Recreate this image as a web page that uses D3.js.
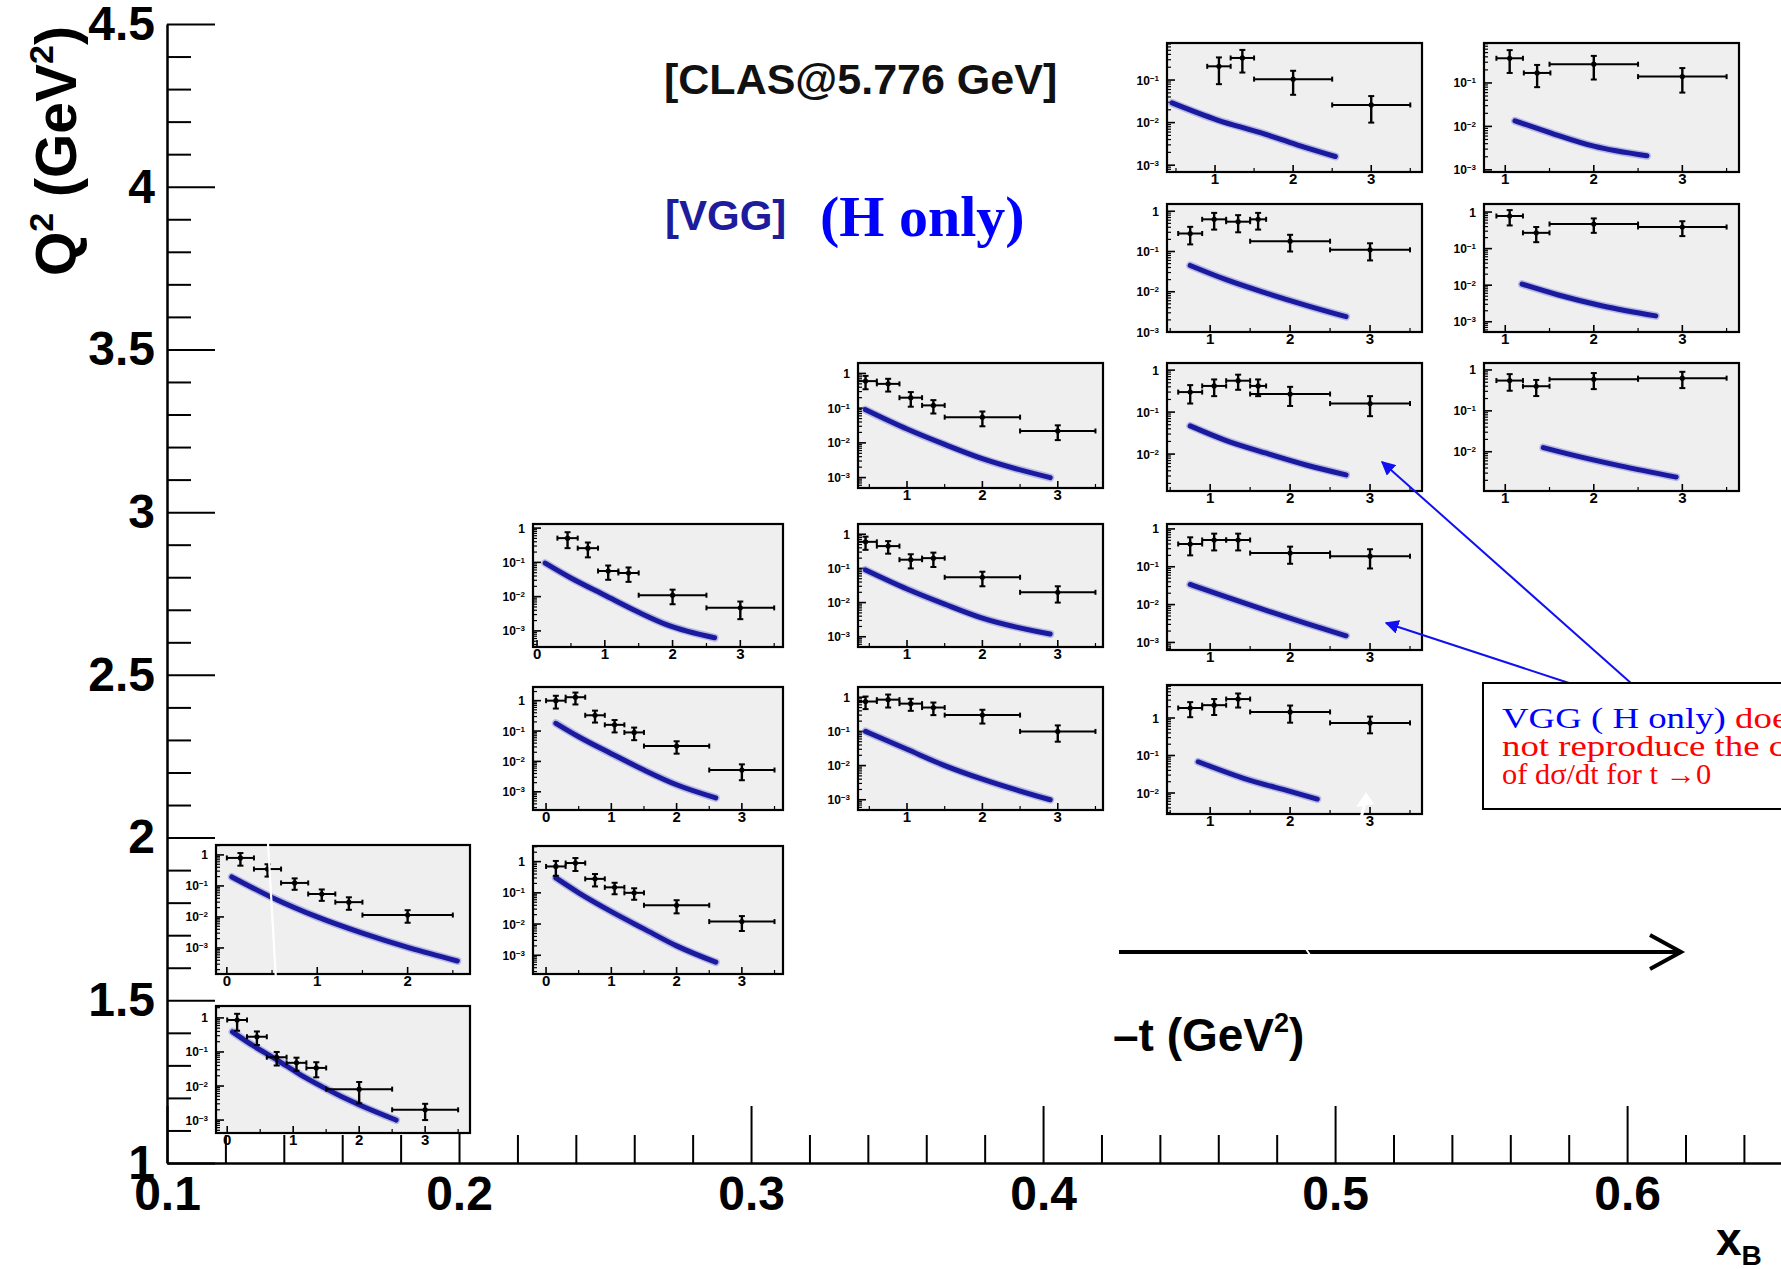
<!DOCTYPE html>
<html>
<head>
<meta charset="utf-8">
<script src="https://cdn.jsdelivr.net/npm/d3@7"></script>
<style>
  body { margin: 0; background: #fff; }
  svg { display: block; }
</style>
</head>
<body>
<svg id="chart" width="1781" height="1269"></svg>
<script>
// ---- main (xB, Q2) grid ----
const xbTicks = [0.1, 0.2, 0.3, 0.4, 0.5, 0.6];
const q2Ticks = [1, 1.5, 2, 2.5, 3, 3.5, 4, 4.5];

// ---- dsigma/dt vs -t for each (xB, Q2) bin ----
// t: bin centre, dt: half width, v: cross section, e: error,
// ct/cv: VGG (H only) model curve
// xB ~ 0.13, Q2 ~ 1.2
const p1_t  = [0.15, 0.45, 0.75, 1.05, 1.35, 2.0, 3.0];
const p1_dt = [0.15, 0.15, 0.15, 0.15, 0.15, 0.5, 0.5];
const p1_v  = [0.87, 0.28, 0.07, 0.048, 0.034, 0.0081, 0.002];
const p1_e  = [0.45, 0.12, 0.03, 0.02, 0.016, 0.005, 0.001];
const p1_ct = [0.08, 0.4, 0.76, 1.1, 1.45, 2.0, 2.56];
const p1_cv = [0.39, 0.15, 0.058, 0.022, 0.0093, 0.0028, 0.001];
// xB ~ 0.13, Q2 ~ 1.8
const p2_t  = [0.15, 0.45, 0.75, 1.05, 1.35, 2.0];
const p2_dt = [0.15, 0.15, 0.15, 0.15, 0.15, 0.5];
const p2_v  = [0.8, 0.35, 0.125, 0.055, 0.03, 0.0115];
const p2_e  = [0.35, 0.15, 0.05, 0.022, 0.013, 0.005];
const p2_ct = [0.055, 0.51, 1.0, 1.5, 2.02, 2.55];
const p2_cv = [0.195, 0.041, 0.01, 0.003, 0.001, 0.00038];
// xB ~ 0.23, Q2 ~ 1.8
const p3_t  = [0.15, 0.45, 0.75, 1.05, 1.35, 2.0, 3.0];
const p3_dt = [0.15, 0.15, 0.15, 0.15, 0.15, 0.5, 0.5];
const p3_v  = [0.7, 0.9, 0.28, 0.15, 0.1, 0.04, 0.012];
const p3_e  = [0.35, 0.4, 0.12, 0.06, 0.04, 0.018, 0.006];
const p3_ct = [0.15, 0.5, 1.0, 1.5, 2.0, 2.6];
const p3_cv = [0.3, 0.1, 0.025, 0.007, 0.002, 0.0006];
// xB ~ 0.23, Q2 ~ 2.3
const p4_t  = [0.15, 0.45, 0.75, 1.05, 1.35, 2.0, 3.0];
const p4_dt = [0.15, 0.15, 0.15, 0.15, 0.15, 0.5, 0.5];
const p4_v  = [1.0, 1.3, 0.33, 0.16, 0.09, 0.032, 0.0052];
const p4_e  = [0.45, 0.55, 0.14, 0.07, 0.04, 0.014, 0.0028];
const p4_ct = [0.15, 0.5, 1.0, 1.5, 2.0, 2.6];
const p4_cv = [0.18, 0.065, 0.018, 0.0052, 0.0017, 0.00063];
// xB ~ 0.23, Q2 ~ 2.8
const p5_t  = [0.45, 0.75, 1.05, 1.35, 2.0, 3.0];
const p5_dt = [0.15, 0.15, 0.15, 0.15, 0.5, 0.5];
const p5_v  = [0.51, 0.26, 0.056, 0.049, 0.011, 0.0047];
const p5_e  = [0.25, 0.12, 0.025, 0.022, 0.005, 0.0025];
const p5_ct = [0.12, 0.5, 1.0, 1.5, 1.92, 2.62];
const p5_cv = [0.095, 0.035, 0.011, 0.0035, 0.0015, 0.00063];
// xB ~ 0.34, Q2 ~ 2.3
const p6_t  = [0.45, 0.75, 1.05, 1.35, 2.0, 3.0];
const p6_dt = [0.15, 0.15, 0.15, 0.15, 0.5, 0.5];
const p6_v  = [0.75, 0.85, 0.65, 0.5, 0.3, 0.1];
const p6_e  = [0.3, 0.35, 0.25, 0.2, 0.13, 0.05];
const p6_ct = [0.45, 1.0, 1.5, 2.0, 2.9];
const p6_cv = [0.1, 0.03, 0.01, 0.004, 0.001];
// xB ~ 0.34, Q2 ~ 2.8
const p7_t  = [0.45, 0.75, 1.05, 1.35, 2.0, 3.0];
const p7_dt = [0.15, 0.15, 0.15, 0.15, 0.5, 0.5];
const p7_v  = [0.6, 0.45, 0.18, 0.2, 0.055, 0.02];
const p7_e  = [0.25, 0.18, 0.08, 0.09, 0.025, 0.01];
const p7_ct = [0.45, 1.0, 1.5, 2.0, 2.9];
const p7_cv = [0.09, 0.025, 0.009, 0.0035, 0.0012];
// xB ~ 0.34, Q2 ~ 3.3
const p8_t  = [0.45, 0.75, 1.05, 1.35, 2.0, 3.0];
const p8_dt = [0.15, 0.15, 0.15, 0.15, 0.5, 0.5];
const p8_v  = [0.6, 0.5, 0.2, 0.12, 0.055, 0.022];
const p8_e  = [0.25, 0.2, 0.09, 0.05, 0.025, 0.01];
const p8_ct = [0.45, 1.0, 1.5, 2.0, 2.9];
const p8_cv = [0.09, 0.025, 0.009, 0.0035, 0.001];
// xB ~ 0.45, Q2 ~ 2.3
const p9_t  = [0.75, 1.05, 1.35, 2.0, 3.0];
const p9_dt = [0.15, 0.15, 0.15, 0.5, 0.5];
const p9_v  = [1.85, 2.2, 3.2, 1.45, 0.74];
const p9_e  = [0.8, 1.0, 1.3, 0.7, 0.35];
const p9_ct = [0.85, 1.41, 2.0, 2.34];
const p9_cv = [0.068, 0.025, 0.011, 0.0069];
// xB ~ 0.45, Q2 ~ 2.8
const p10_t  = [0.75, 1.05, 1.35, 2.0, 3.0];
const p10_dt = [0.15, 0.15, 0.15, 0.5, 0.5];
const p10_v  = [0.4, 0.51, 0.51, 0.23, 0.19];
const p10_e  = [0.2, 0.24, 0.24, 0.11, 0.1];
const p10_ct = [0.75, 1.2, 1.7, 2.2, 2.7];
const p10_cv = [0.034, 0.016, 0.007, 0.0032, 0.0015];
// xB ~ 0.45, Q2 ~ 3.3
const p11_t  = [0.75, 1.05, 1.35, 1.6, 2.0, 3.0];
const p11_dt = [0.15, 0.15, 0.15, 0.1, 0.5, 0.5];
const p11_v  = [0.3, 0.42, 0.56, 0.42, 0.27, 0.16];
const p11_e  = [0.14, 0.18, 0.22, 0.18, 0.13, 0.08];
const p11_ct = [0.75, 1.2, 1.7, 2.2, 2.7];
const p11_cv = [0.047, 0.021, 0.0105, 0.0055, 0.0032];
// xB ~ 0.45, Q2 ~ 3.8
const p12_t  = [0.75, 1.05, 1.35, 1.6, 2.0, 3.0];
const p12_dt = [0.15, 0.15, 0.15, 0.1, 0.5, 0.5];
const p12_v  = [0.28, 0.63, 0.55, 0.63, 0.18, 0.11];
const p12_e  = [0.13, 0.28, 0.25, 0.28, 0.08, 0.05];
const p12_ct = [0.75, 1.2, 1.7, 2.2, 2.7];
const p12_cv = [0.045, 0.02, 0.0093, 0.0046, 0.0024];
// xB ~ 0.45, Q2 ~ 4.3
const p13_t  = [1.05, 1.35, 2.0, 3.0];
const p13_dt = [0.15, 0.15, 0.5, 0.5];
const p13_v  = [0.21, 0.33, 0.105, 0.026];
const p13_e  = [0.13, 0.18, 0.06, 0.016];
const p13_ct = [0.45, 1.03, 1.58, 2.05, 2.54];
const p13_cv = [0.029, 0.0115, 0.0058, 0.003, 0.0016];
// xB ~ 0.55, Q2 ~ 3.3
const p14_t  = [1.05, 1.35, 2.0, 3.0];
const p14_dt = [0.15, 0.15, 0.5, 0.5];
const p14_v  = [0.55, 0.4, 0.59, 0.63];
const p14_e  = [0.24, 0.17, 0.25, 0.27];
const p14_ct = [1.43, 1.8, 2.3, 2.93];
const p14_cv = [0.0126, 0.0079, 0.0045, 0.0024];
// xB ~ 0.55, Q2 ~ 3.8
const p15_t  = [1.05, 1.35, 2.0, 3.0];
const p15_dt = [0.15, 0.15, 0.5, 0.5];
const p15_v  = [0.78, 0.27, 0.47, 0.39];
const p15_e  = [0.35, 0.12, 0.2, 0.17];
const p15_ct = [1.19, 1.6, 2.1, 2.7];
const p15_cv = [0.0107, 0.0054, 0.0027, 0.00145];
// xB ~ 0.55, Q2 ~ 4.3
const p16_t  = [1.05, 1.36, 2.0, 3.0];
const p16_dt = [0.15, 0.15, 0.5, 0.5];
const p16_v  = [0.37, 0.17, 0.27, 0.14];
const p16_e  = [0.2, 0.09, 0.15, 0.08];
const p16_ct = [1.11, 1.51, 2.0, 2.6];
const p16_cv = [0.0134, 0.0071, 0.0035, 0.0021];

// ---- inset frames: [left, top, width, height] and axis ranges [tMin, tMax, log10 min, log10 max] ----
const frames = [
  [216, 1006, 254, 127], [216, 845, 254, 129],
  [533, 846, 250, 128], [533, 687, 250, 123], [533, 524, 250, 123],
  [858, 687, 245, 123], [858, 524, 245, 123], [858, 363, 245, 125],
  [1167, 685, 255, 129], [1167, 524, 255, 126], [1167, 363, 255, 128], [1167, 204, 255, 128], [1167, 43, 255, 129],
  [1484, 363, 255, 128], [1484, 204, 255, 128], [1484, 43, 255, 129]
];
const ranges = [
  [-0.17, 3.68, -3.38, 0.35], [-0.12, 2.69, -3.84, 0.32],
  [-0.2, 3.63, -3.6, 0.5], [-0.2, 3.63, -3.6, 0.45], [-0.06, 3.63, -3.47, 0.12],
  [0.35, 3.6, -3.3, 0.3], [0.35, 3.6, -3.3, 0.3], [0.35, 3.6, -3.3, 0.3],
  [0.46, 3.65, -2.56, 0.88], [0.46, 3.65, -3.2, 0.13], [0.46, 3.65, -2.88, 0.17], [0.46, 3.65, -3.0, 0.18], [0.385, 3.65, -3.16, -0.13],
  [0.76, 3.64, -2.96, 0.17], [0.76, 3.64, -3.28, 0.22], [0.76, 3.64, -3.05, -0.08]
];
const bins = [
  [p1_t, p1_dt, p1_v, p1_e, p1_ct, p1_cv], [p2_t, p2_dt, p2_v, p2_e, p2_ct, p2_cv],
  [p3_t, p3_dt, p3_v, p3_e, p3_ct, p3_cv], [p4_t, p4_dt, p4_v, p4_e, p4_ct, p4_cv],
  [p5_t, p5_dt, p5_v, p5_e, p5_ct, p5_cv], [p6_t, p6_dt, p6_v, p6_e, p6_ct, p6_cv],
  [p7_t, p7_dt, p7_v, p7_e, p7_ct, p7_cv], [p8_t, p8_dt, p8_v, p8_e, p8_ct, p8_cv],
  [p9_t, p9_dt, p9_v, p9_e, p9_ct, p9_cv], [p10_t, p10_dt, p10_v, p10_e, p10_ct, p10_cv],
  [p11_t, p11_dt, p11_v, p11_e, p11_ct, p11_cv], [p12_t, p12_dt, p12_v, p12_e, p12_ct, p12_cv],
  [p13_t, p13_dt, p13_v, p13_e, p13_ct, p13_cv], [p14_t, p14_dt, p14_v, p14_e, p14_ct, p14_cv],
  [p15_t, p15_dt, p15_v, p15_e, p15_ct, p15_cv], [p16_t, p16_dt, p16_v, p16_e, p16_ct, p16_cv]
];

const svg = d3.select('#chart');
const SANS = '"Liberation Sans", Arial, Helvetica, sans-serif';
const SERIF = '"Liberation Serif", "Times New Roman", serif';

// ---- main axes ----
const x = d3.scaleLinear().domain([0.1, 0.6527]).range([167, 1781]);
const y = d3.scaleLinear().domain([1, 4.5]).range([1163, 24]);

const xMinor = d3.range(0.12, 0.651, 0.02).filter(v => Math.abs(v * 10 - Math.round(v * 10)) > 1e-6);
const yMinor = d3.range(1.1, 4.5, 0.1).filter(v => Math.abs(v * 2 - Math.round(v * 2)) > 1e-6);

const gMain = svg.append('g');
const gx = gMain.append('g').attr('transform', 'translate(0,1163)');
gx.call(d3.axisBottom(x).tickValues(xbTicks).tickSizeInner(-57).tickSizeOuter(0).tickPadding(13)
  .tickFormat(d3.format('.1f')));
gx.append('g').call(d3.axisBottom(x).tickValues(xMinor).tickSizeInner(-28).tickSizeOuter(0).tickFormat(''))
  .select('.domain').remove();
const gy = gMain.append('g').attr('transform', 'translate(167,0)');
gy.call(d3.axisLeft(y).tickValues(q2Ticks).tickSizeInner(-48).tickSizeOuter(0).tickPadding(12)
  .tickFormat(d => String(d)));
gy.append('g').call(d3.axisLeft(y).tickValues(yMinor).tickSizeInner(-24).tickSizeOuter(0).tickFormat(''))
  .select('.domain').remove();
gMain.selectAll('.domain').attr('stroke', '#000').attr('stroke-width', 2.5);
gMain.selectAll('.tick line').attr('stroke', '#000').attr('stroke-width', 2);
gMain.selectAll('.tick text').attr('fill', '#000').attr('font-family', SANS)
  .attr('font-weight', 'bold').attr('font-size', 48);

// axis titles
const q2Title = svg.append('text').attr('transform', 'translate(76,26) rotate(-90)')
  .attr('text-anchor', 'end').attr('font-family', SANS).attr('font-weight', 'bold')
  .attr('font-size', 57).attr('fill', '#000');
q2Title.append('tspan').text('Q');
q2Title.append('tspan').attr('dy', -23).attr('font-size', 34).text('2');
q2Title.append('tspan').attr('dy', 23).text(' (GeV');
q2Title.append('tspan').attr('dy', -23).attr('font-size', 34).text('2');
q2Title.append('tspan').attr('dy', 23).text(')');

const xbTitle = svg.append('text').attr('x', 1716).attr('y', 1255).attr('font-family', SANS)
  .attr('font-weight', 'bold').attr('font-size', 46).attr('fill', '#000');
xbTitle.append('tspan').text('x');
xbTitle.append('tspan').attr('dy', 10).attr('font-size', 28).text('B');

// ---- insets ----
const fmtPow = (g, d) => {
  if (d === 0) { g.text('1'); return; }
  g.append('tspan').text('10');
  g.append('tspan').attr('dy', -4).attr('font-size', 8).text('\u2212' + (-d));
};

const curveLine = d3.line().curve(d3.curveMonotoneX);

frames.forEach((f, i) => {
  const [L, T, Wd, Ht] = f;
  const [t0, t1, l0, l1] = ranges[i];
  const [pt, pdt, pv, pe, ct, cv] = bins[i];
  const sx = d3.scaleLinear().domain([t0, t1]).range([L, L + Wd]);
  const sy = d3.scaleLog().domain([Math.pow(10, l0), Math.pow(10, l1)]).range([T + Ht, T]);
  const g = svg.append('g');

  g.append('rect').attr('x', L).attr('y', T).attr('width', Wd).attr('height', Ht).attr('fill', '#efefef');

  const clipId = 'clip' + i;
  svg.append('clipPath').attr('id', clipId).append('rect')
    .attr('x', L).attr('y', T).attr('width', Wd).attr('height', Ht);
  const inner = g.append('g').attr('clip-path', `url(#${clipId})`);

  // y ticks (log)
  const decades = d3.range(Math.ceil(l0), Math.floor(l1) + 1);
  const minors = [];
  for (let d = Math.floor(l0); d <= Math.ceil(l1); d++) {
    for (let k = 2; k <= 9; k++) {
      const val = k * Math.pow(10, d);
      if (Math.log10(val) > l0 && Math.log10(val) < l1) minors.push(val);
    }
  }
  inner.selectAll('.ym').data(minors).join('line')
    .attr('x1', L).attr('x2', L + 4).attr('y1', d => sy(d)).attr('y2', d => sy(d))
    .attr('stroke', '#000').attr('stroke-width', 1.2);
  inner.selectAll('.yM').data(decades).join('line')
    .attr('x1', L).attr('x2', L + 8).attr('y1', d => sy(Math.pow(10, d))).attr('y2', d => sy(Math.pow(10, d)))
    .attr('stroke', '#000').attr('stroke-width', 1.6);
  decades.forEach(d => {
    const tx = g.append('text').attr('x', L - 8).attr('y', sy(Math.pow(10, d)) + 4.5)
      .attr('text-anchor', 'end').attr('font-family', SANS).attr('font-weight', 'bold')
      .attr('font-size', 12).attr('fill', '#000');
    fmtPow(tx, d);
  });

  // t ticks
  const tMajor = d3.range(Math.ceil(t0), Math.floor(t1) + 1);
  const tHalf = d3.range(Math.ceil(t0 * 2) / 2, t1, 0.5).filter(v => v % 1 !== 0);
  inner.selectAll('.xM').data(tMajor).join('line')
    .attr('x1', d => sx(d)).attr('x2', d => sx(d)).attr('y1', T + Ht).attr('y2', T + Ht - 7)
    .attr('stroke', '#000').attr('stroke-width', 1.6);
  inner.selectAll('.xm').data(tHalf).join('line')
    .attr('x1', d => sx(d)).attr('x2', d => sx(d)).attr('y1', T + Ht).attr('y2', T + Ht - 4)
    .attr('stroke', '#000').attr('stroke-width', 1.2);
  g.selectAll('.xl').data(tMajor).join('text')
    .attr('x', d => sx(d)).attr('y', T + Ht + 12).attr('text-anchor', 'middle')
    .attr('font-family', SANS).attr('font-weight', 'bold').attr('font-size', 15).attr('fill', '#000')
    .text(d => d);

  // VGG curve
  const cpts = ct.map((t, k) => [sx(t), sy(cv[k])]);
  inner.append('path').attr('d', curveLine(cpts)).attr('fill', 'none')
    .attr('stroke', '#7777d8').attr('stroke-opacity', 0.45).attr('stroke-width', 8)
    .attr('stroke-linecap', 'round');
  inner.append('path').attr('d', curveLine(cpts)).attr('fill', 'none')
    .attr('stroke', '#1a1a9e').attr('stroke-width', 5).attr('stroke-linecap', 'round');

  // data points with error bars
  const lo = Math.pow(10, l0);
  pt.forEach((t, k) => {
    const v = pv[k], e = pe[k];
    const cx = sx(t), cy = sy(v);
    const xa = sx(t - pdt[k]), xb = sx(t + pdt[k]);
    const ya = sy(v + e), yb = sy(Math.max(v - e, lo));
    const pg = inner.append('g').attr('stroke', '#000').attr('stroke-width', 2).attr('fill', '#000');
    pg.append('line').attr('x1', xa).attr('x2', xb).attr('y1', cy).attr('y2', cy);
    pg.append('line').attr('x1', xa).attr('x2', xa).attr('y1', cy - 2.5).attr('y2', cy + 2.5);
    pg.append('line').attr('x1', xb).attr('x2', xb).attr('y1', cy - 2.5).attr('y2', cy + 2.5);
    pg.append('line').attr('x1', cx).attr('x2', cx).attr('y1', ya).attr('y2', yb).attr('stroke-width', 2.4);
    pg.append('line').attr('x1', cx - 3).attr('x2', cx + 3).attr('y1', ya).attr('y2', ya);
    pg.append('line').attr('x1', cx - 3).attr('x2', cx + 3).attr('y1', yb).attr('y2', yb);
    pg.append('circle').attr('cx', cx).attr('cy', cy).attr('r', 2.6).attr('stroke', 'none');
  });

  g.append('rect').attr('x', L).attr('y', T).attr('width', Wd).attr('height', Ht)
    .attr('fill', 'none').attr('stroke', '#000').attr('stroke-width', 2.2);
});

// thin white streak across the low-xB inset
svg.append('line').attr('x1', 268).attr('y1', 843).attr('x2', 276).attr('y2', 980)
  .attr('stroke', '#fff').attr('stroke-width', 2.2);
// small white pointer below the xB ~ 0.45, Q2 ~ 2.3 inset
svg.append('polygon').attr('points', '1366,792 1356,807 1374,804').attr('fill', '#fff');
svg.append('line').attr('x1', 1365).attr('y1', 803).attr('x2', 1361).attr('y2', 818)
  .attr('stroke', '#fff').attr('stroke-width', 3);

// ---- labels ----
svg.append('text').attr('x', 664).attr('y', 94).attr('font-family', SANS).attr('font-weight', 'bold')
  .attr('font-size', 43).attr('fill', '#111').text('[CLAS@5.776 GeV]');
svg.append('text').attr('x', 665).attr('y', 230).attr('font-family', SANS).attr('font-weight', 'bold')
  .attr('font-size', 42).attr('fill', '#1c1c9c').text('[VGG]');
svg.append('text').attr('x', 820).attr('y', 236).attr('font-family', SERIF).attr('font-weight', 'bold')
  .attr('font-size', 58).attr('fill', '#0000ff').text('(H only)');

// -t direction arrow
const arrowG = svg.append('g').attr('stroke', '#000').attr('fill', 'none');
arrowG.append('line').attr('x1', 1119).attr('y1', 952).attr('x2', 1680).attr('y2', 952).attr('stroke-width', 4);
arrowG.append('polyline').attr('points', '1650,935 1681,952 1650,969').attr('stroke-width', 4);
svg.append('line').attr('x1', 1304).attr('y1', 946).attr('x2', 1312).attr('y2', 958)
  .attr('stroke', '#fff').attr('stroke-width', 2);
const tTitle = svg.append('text').attr('x', 1113).attr('y', 1051).attr('font-family', SANS)
  .attr('font-weight', 'bold').attr('font-size', 46).attr('fill', '#000');
tTitle.append('tspan').text('\u2013t (GeV');
tTitle.append('tspan').attr('dy', -19).attr('font-size', 27).text('2');
tTitle.append('tspan').attr('dy', 19).text(')');

// ---- comment box with pointers ----
const defs = svg.append('defs');
defs.append('marker').attr('id', 'bluehead').attr('viewBox', '0 0 10 10').attr('refX', 9).attr('refY', 5)
  .attr('markerWidth', 7).attr('markerHeight', 7).attr('orient', 'auto')
  .append('path').attr('d', 'M0,0 L10,5 L0,10 z').attr('fill', '#1010f0');
svg.append('line').attr('x1', 1632).attr('y1', 684).attr('x2', 1382).attr('y2', 462)
  .attr('stroke', '#1010f0').attr('stroke-width', 2).attr('marker-end', 'url(#bluehead)');
svg.append('line').attr('x1', 1572).attr('y1', 684).attr('x2', 1386).attr('y2', 623)
  .attr('stroke', '#1010f0').attr('stroke-width', 2).attr('marker-end', 'url(#bluehead)');

svg.append('rect').attr('x', 1483).attr('y', 683).attr('width', 320).attr('height', 126)
  .attr('fill', '#fff').attr('stroke', '#000').attr('stroke-width', 2);
// note lines, each stretched to its own width
const note1 = svg.append('text').attr('transform', 'translate(1502,728) scale(1.27,1)')
  .attr('font-family', SERIF).attr('font-size', 29);
note1.append('tspan').attr('fill', '#0000ff').text('VGG ( H only)');
note1.append('tspan').attr('fill', '#ff0000').text(' does');
svg.append('text').attr('transform', 'translate(1502,756) scale(1.27,1)')
  .attr('font-family', SERIF).attr('font-size', 29).attr('fill', '#ff0000')
  .text('not reproduce the cross section');
svg.append('text').attr('transform', 'translate(1502,784) scale(1.05,1)')
  .attr('font-family', SERIF).attr('font-size', 29).attr('fill', '#ff0000')
  .text('of  d\u03c3/dt for t \u21920');
</script>
</body>
</html>
